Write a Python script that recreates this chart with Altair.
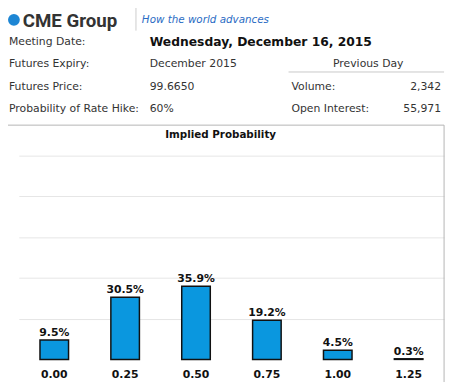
import altair as alt
import pandas as pd

# ---- data ----
rates = ["0.00", "0.25", "0.50", "0.75", "1.00", "1.25"]
probs = [9.5, 30.5, 35.9, 19.2, 4.5, 0.3]

meeting_date = "Wednesday, December 16, 2015"
row_labels = ["Meeting Date:", "Futures Expiry:", "Futures Price:", "Probability of Rate Hike:"]
row_values = ["", "December 2015", "99.6650", "60%"]
prev_labels = ["Volume:", "Open Interest:"]
prev_values = ["2,342", "55,971"]

df = pd.DataFrame({"rate": rates, "prob": probs})

FONT = "DejaVu Sans"
OX, OY = 19, 155  # plot origin in page coords


def px(X):
    return X - OX


def py(Y):
    return Y - OY


one = alt.Data(values=[{}])


def txt(s, X, Y, size=11, weight="normal", color="#333333", align="left", style="normal", font=FONT):
    return alt.Chart(one).mark_text(
        text=s, align=align, baseline="middle", font=font, fontSize=size,
        fontWeight=weight, color=color, fontStyle=style
    ).encode(x=alt.value(px(X)), y=alt.value(py(Y)))


def rule(X1, Y1, X2, Y2, color="#c8c8c8", w=1):
    return alt.Chart(one).mark_rule(color=color, strokeWidth=w).encode(
        x=alt.value(px(X1)), x2=alt.value(px(X2)), y=alt.value(py(Y1)), y2=alt.value(py(Y2))
    )


base = alt.Chart(df)
xenc = alt.X(
    "rate:N", sort=rates,
    scale=alt.Scale(paddingInner=0.597, paddingOuter=0.2985),
    axis=alt.Axis(title=None, labelAngle=0, ticks=False, domain=False, grid=False,
                  labelFont=FONT, labelFontSize=11, labelFontWeight="bold",
                  labelColor="#111111", labelPadding=9),
)
yenc = alt.Y(
    "prob:Q", scale=alt.Scale(domain=[0, 100], nice=False),
    axis=alt.Axis(title=None, labels=False, ticks=False, domain=False,
                  values=[20, 40, 60, 80, 100], gridColor="#e6e6e6", gridWidth=1),
)

bars = base.mark_bar(color="#0a97df", stroke="#111111", strokeWidth=1.5).encode(x=xenc, y=yenc)
labels = base.transform_calculate(
    lab="format(datum.prob, '.1f') + '%'"
).mark_text(baseline="bottom", dy=-2, font=FONT, fontSize=11, fontWeight="bold", color="#111111").encode(
    x=alt.X("rate:N", sort=rates), y="prob:Q", text="lab:N"
)

LS = 6  # logo shift (page margin)
deco = [
    # logo
    alt.Chart(one).mark_point(shape="circle", filled=True, size=144, color="#1d86d4", opacity=1).encode(
        x=alt.value(px(8 + LS)), y=alt.value(py(17))),
    txt("CME Group", 17 + LS, 18, size=19, weight="bold", color="#333333", font="Roboto"),
    rule(132 + LS, 4, 132 + LS, 28, color="#cccccc"),
    txt("How the world advances", 138 + LS, 17, size=10.5, weight="normal", color="#2b6cc4", style="italic"),
    # info table
    txt(meeting_date, 152, 40, size=12.5, weight="bold", color="#111111"),
    txt("Previous Day", 374, 62, align="center"),
    rule(293, 70, 451, 70),
    rule(8, 124, 451, 124, color="#b4b4b4"),
    rule(451, 124, 451, 385, color="#b4b4b4"),
    txt("Implied Probability", 224, 134, size=10.5, weight="bold", color="#111111", align="center"),
]
row_y = [40, 62, 85, 108]
for lab, val, Y in zip(row_labels, row_values, row_y):
    deco.append(txt(lab, 9, Y))
    if val:
        deco.append(txt(val, 152, Y))
for lab, val, Y in zip(prev_labels, prev_values, row_y[2:]):
    deco.append(txt(lab, 296, Y))
    deco.append(txt(val, 448, Y, align="right"))

chart = alt.layer(bars, labels, *deco).properties(
    width=432, height=207,
    autosize=alt.AutoSizeParams(type="none"),
    padding={"left": 11, "top": 147, "right": 4, "bottom": 22},
).configure_view(strokeWidth=0)

chart.save("out.html", embed_options={"renderer": "svg", "actions": False})
